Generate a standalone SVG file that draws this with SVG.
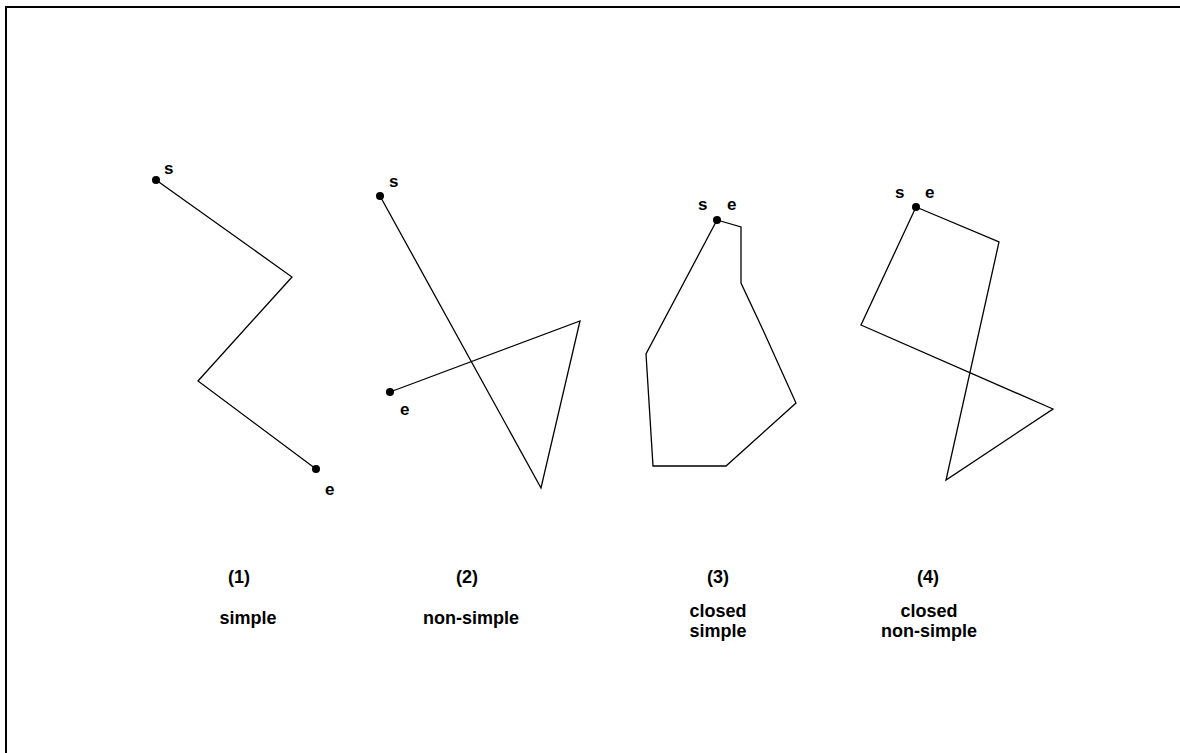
<svg xmlns="http://www.w3.org/2000/svg" width="1180" height="753" viewBox="0 0 1180 753">
<style>
.ln{fill:none;stroke:#000;stroke-width:1.3;stroke-linejoin:miter}
.dot{fill:#000}
.pt{font-family:"Liberation Sans",Arial,sans-serif;font-weight:bold;font-size:17px;fill:#000}
.cap{font-family:"Liberation Sans",Arial,sans-serif;font-weight:bold;font-size:18px;fill:#000;text-anchor:middle}
</style>
<rect width="1180" height="753" fill="#fff"/>
<path d="M6,753 V7 H1180" fill="none" stroke="#000" stroke-width="2"/>
<g id="connectors">
<polyline class="ln" points="156,180 292,277 198,381 316,469"/>
<polyline class="ln" points="380,196 541,488 580,321 390,392"/>
<polygon class="ln" points="717,220 741,227 741,283 763,330 796,403 726,466 653,466 646,354"/>
<polygon class="ln" points="916,207 999,242 946,480 1053,409 861,325"/>
</g>
<g id="fig1">
<circle class="dot" cx="156" cy="180" r="4"/>
<circle class="dot" cx="316" cy="469" r="4"/>
<text class="pt" x="164" y="174">s</text>
<text class="pt" x="325" y="495">e</text>
<text class="cap" x="239" y="583">(1)</text>
<text class="cap" x="248" y="624">simple</text>
</g>
<g id="fig2">
<circle class="dot" cx="380" cy="196" r="4"/>
<circle class="dot" cx="390" cy="392" r="4"/>
<text class="pt" x="389" y="187">s</text>
<text class="pt" x="400" y="415">e</text>
<text class="cap" x="467" y="583">(2)</text>
<text class="cap" x="471" y="624">non-simple</text>
</g>
<g id="fig3">
<circle class="dot" cx="717" cy="220" r="4"/>
<text class="pt" x="698" y="210">s</text>
<text class="pt" x="727" y="210">e</text>
<text class="cap" x="718" y="583">(3)</text>
<text class="cap" x="718" y="617">closed</text>
<text class="cap" x="718" y="637">simple</text>
</g>
<g id="fig4">
<circle class="dot" cx="916" cy="207" r="4"/>
<text class="pt" x="895" y="198">s</text>
<text class="pt" x="925" y="198">e</text>
<text class="cap" x="928" y="583">(4)</text>
<text class="cap" x="929" y="617">closed</text>
<text class="cap" x="929" y="637">non-simple</text>
</g>
</svg>
